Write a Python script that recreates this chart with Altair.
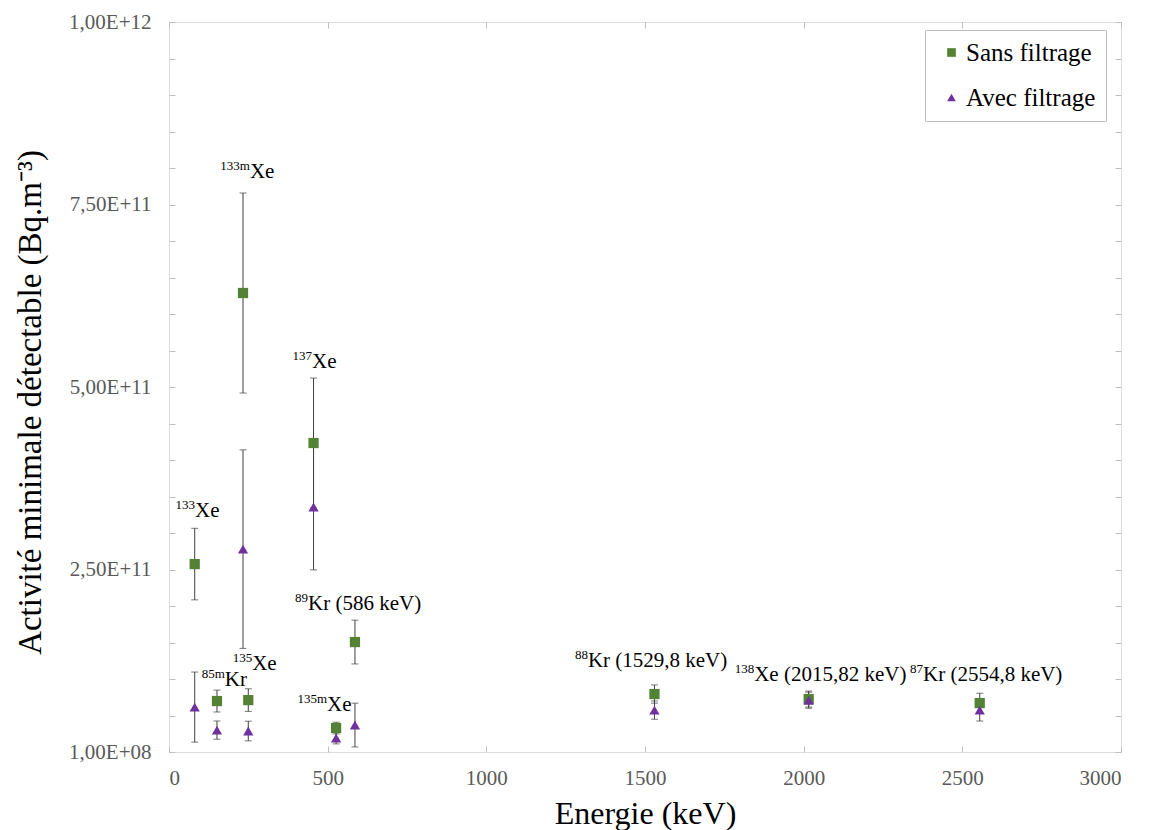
import altair as alt
import pandas as pd

# ---------------- data ----------------
isotopes = ["133Xe", "85mKr", "133mXe", "135Xe", "137Xe", "135mXe", "89Kr", "88Kr", "138Xe", "87Kr"]
energies = [81, 151.2, 233.2, 249.8, 455.5, 526.6, 586, 1529.8, 2015.82, 2554.8]
sans_values = [2.575e11, 6.99e10, 6.288e11, 7.12e10, 4.233e11, 3.29e10, 1.507e11, 7.95e10, 7.26e10, 6.71e10]
sans_errors = [4.9e10, 1.5e10, 1.37e11, 1.55e10, 8.9e10, 8e9, 3.0e10, 1.25e10, 1.1e10, 1.35e10]
avec_values = [6.16e10, 3.01e10, 2.78e11, 2.88e10, 3.356e11, 1.92e10, 3.7e10, 5.75e10, 7.1e10, 5.75e10]
avec_errors = [4.8e10, 1.25e10, 1.36e11, 1.35e10, 8.6e10, 8e9, 3.0e10, 1.25e10, 1.1e10, 1.5e10]
series_names = ["Sans filtrage", "Avec filtrage"]
series_colors = ["#548235", "#7030A0"]
series_shapes = ["square", "triangle-up"]

# annotation labels (superscript part + main part, anchored in data units)
label_sup = ["133", "133m", "137", "85m", "135", "135m", "89", "88", "138", "87"]
label_main = ["Xe", "Xe", "Xe", "Kr", "Xe", "Xe", "Kr (586 keV)", "Kr (1529,8 keV)",
              "Xe (2015,82 keV)", "Kr (2554,8 keV)"]
label_x = [82, 255, 451, 176, 262, 498, 438, 1320, 1844, 2376]
label_y = [3.22e11, 7.86e11, 5.26e11, 9.04e10, 1.123e11, 5.6e10, 1.945e11, 1.164e11, 9.73e10, 9.73e10]

x_tick_values = [0, 500, 1000, 1500, 2000, 2500, 3000]
y_major_values = [100_000_000, 250_000_000_000, 500_000_000_000, 750_000_000_000, 1_000_000_000_000]
y_major_labels = ["1,00E+08", "2,50E+11", "5,00E+11", "7,50E+11", "1,00E+12"]
y_minor_values = [k * 50_000_000_000 for k in range(1, 21)]

# ---------------- tables ----------------
rows = []
for name, vals, errs in [(series_names[0], sans_values, sans_errors),
                         (series_names[1], avec_values, avec_errors)]:
    for iso, e, v, er in zip(isotopes, energies, vals, errs):
        rows.append({"isotope": iso, "energy": e, "value": v, "err": er, "series": name})
df = pd.DataFrame(rows)
labels_df = pd.DataFrame({"x": label_x, "y": label_y, "sup": label_sup, "main": label_main})

FONT = "Liberation Serif"
xscale = alt.Scale(domain=[0, 3000], nice=False, zero=False)
yscale = alt.Scale(domain=[100_000_000, 1_000_000_000_000], nice=False, zero=False)

y_ticks_all = sorted(set(y_major_values + y_minor_values))
label_expr = ""
for v, l in zip(y_major_values, y_major_labels):
    label_expr += f"datum.value == {v} ? '{l}' : "
label_expr += "''"

x_axis = alt.Axis(values=x_tick_values, format="d", domain=False, offset=-6, tickSize=6,
                  tickColor="#BFBFBF", grid=False, labelFont=FONT, labelFontSize=21,
                  labelColor="#595959", labelPadding=15, title="Energie (keV)", titleFont=FONT,
                  titleFontSize=32, titleFontWeight="normal", titleColor="#000000", titlePadding=10)
y_axis = alt.Axis(values=y_ticks_all, labelExpr=label_expr, domain=False, offset=-6, tickSize=6,
                  tickColor="#BFBFBF", grid=False, labelFont=FONT, labelFontSize=21,
                  labelColor="#595959", labelPadding=18,
                  title="Activité minimale détectable (Bq.m⁻³)", titleFont=FONT, titleFontSize=33,
                  titleFontWeight="normal", titleColor="#000000", titlePadding=21, titleY=380)
x_axis_top = alt.Axis(orient="top", values=x_tick_values, domain=False, offset=-6, tickSize=6,
                      tickColor="#BFBFBF", grid=False, labels=False, title=None)
y_axis_right = alt.Axis(orient="right", values=y_ticks_all, domain=False, offset=-6, tickSize=6,
                        tickColor="#BFBFBF", grid=False, labels=False, title=None)

base = alt.Chart(df)

axes_main = base.mark_point(opacity=0).encode(
    x=alt.X("energy:Q", scale=xscale, axis=x_axis),
    y=alt.Y("value:Q", scale=yscale, axis=y_axis),
)
axes_mirror = base.mark_point(opacity=0).encode(
    x=alt.X("energy:Q", scale=xscale, axis=x_axis_top),
    y=alt.Y("value:Q", scale=yscale, axis=y_axis_right),
)

err_rules = base.mark_rule(color="#404040", strokeWidth=1).transform_calculate(
    low="datum.value - datum.err", high="datum.value + datum.err"
).encode(
    x=alt.X("energy:Q", scale=xscale, axis=None),
    y=alt.Y("low:Q", scale=yscale, axis=None),
    y2="high:Q",
)
err_caps = base.mark_tick(color="#404040", orient="horizontal", size=7, thickness=1).transform_calculate(
    low="datum.value - datum.err", high="datum.value + datum.err"
).transform_fold(["low", "high"], as_=["end", "endval"]).encode(
    x=alt.X("energy:Q", scale=xscale, axis=None),
    y=alt.Y("endval:Q", scale=yscale, axis=None),
)

legend = alt.Legend(title=None, orient="none", legendX=756, legendY=8, strokeColor="#BFBFBF",
                    fillColor="white", padding=10, labelFont=FONT, labelFontSize=25,
                    labelColor="#000000", symbolSize=75, rowPadding=19, labelOffset=2,
                    symbolOffset=4, symbolStrokeWidth=0, labelExpr="datum.label + '  '")

points = base.mark_point(filled=True, opacity=1, size=105).encode(
    x=alt.X("energy:Q", scale=xscale, axis=None),
    y=alt.Y("value:Q", scale=yscale, axis=None),
    color=alt.Color("series:N", scale=alt.Scale(domain=series_names, range=series_colors),
                    legend=legend, sort=series_names),
    shape=alt.Shape("series:N", scale=alt.Scale(domain=series_names, range=series_shapes),
                    legend=legend, sort=series_names),
)

lab = alt.Chart(labels_df)
sup_text = lab.mark_text(align="right", baseline="alphabetic", dy=-8, font=FONT,
                         fontSize=13, color="#000000").encode(
    x=alt.X("x:Q", scale=xscale, axis=None),
    y=alt.Y("y:Q", scale=yscale, axis=None),
    text="sup:N",
)
main_text = lab.mark_text(align="left", baseline="alphabetic", font=FONT,
                          fontSize=21, color="#000000").encode(
    x=alt.X("x:Q", scale=xscale, axis=None),
    y=alt.Y("y:Q", scale=yscale, axis=None),
    text="main:N",
)

chart = alt.layer(
    axes_main, axes_mirror, err_rules, err_caps, points, sup_text, main_text
).resolve_axis(
    x="independent", y="independent"
).properties(
    width=952, height=730,
    autosize=alt.AutoSizeParams(type="none"),
    padding={"left": 161, "top": 14, "right": 20, "bottom": 90},
).configure_view(
    stroke="#BFBFBF", strokeWidth=1
).configure(background="white")

chart.save("out.html", embed_options={"renderer": "svg", "actions": False})
